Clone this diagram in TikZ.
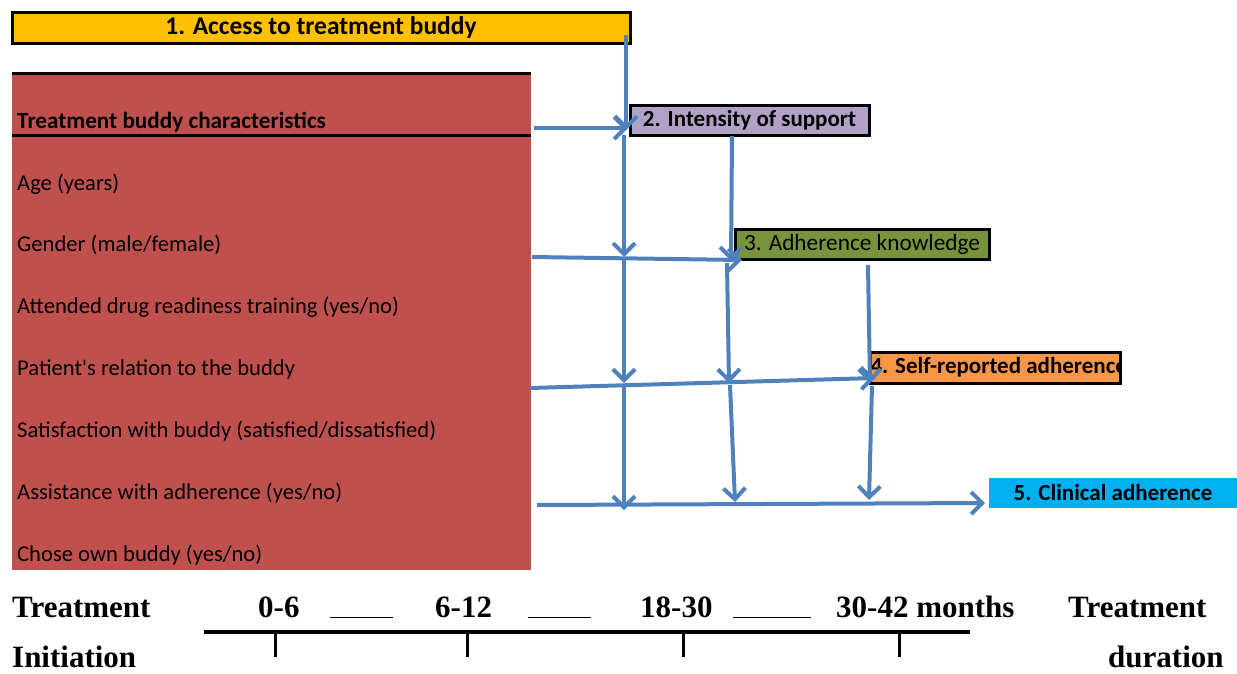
\documentclass[tikz,border=0pt]{standalone}
\usepackage{fontspec}
\setmainfont{Liberation Serif}
\newfontfamily\calib{Carlito}
\usetikzlibrary{arrows.meta}
\definecolor{yel}{HTML}{FFC000}
\definecolor{redp}{HTML}{C0504D}
\definecolor{lav}{HTML}{B2A1C7}
\definecolor{olive}{HTML}{77933C}
\definecolor{orng}{HTML}{F79646}
\definecolor{cyanb}{HTML}{00B0F0}
\definecolor{arrblue}{HTML}{4F81BD}
\tikzset{
  box/.style={draw=black, line width=3pt, inner sep=0pt, font=\calib\fontsize{23}{26}\selectfont\bfseries},
  item/.style={anchor=west, inner sep=0pt, font=\calib\fontsize{22.6}{26}\selectfont},
  flow/.style={draw=arrblue, line width=4pt, -{Straight Barb[length=11pt,width=22pt,line width=4pt]}},
  tl/.style={anchor=base west, inner sep=0pt, text depth=0pt, font=\fontsize{31}{34}\selectfont\bfseries},
}
\begin{document}
\begin{tikzpicture}[x=1pt,y=-1pt]
\useasboundingbox (0,0) rectangle (1237,673);
% red panel
\fill[redp] (12,74) rectangle (531,570);
\draw[line width=3pt] (12,73) -- (531,73);
\draw[line width=3pt] (12,135) -- (531,135);
\node[item,font=\calib\fontsize{23.2}{26}\selectfont\bfseries] (head) at (17,122) {Treatment buddy characteristics};
\node[item] (age) at (17,184) {Age (years)};
\node[item] (gen) at (17,245) {Gender (male/female)};
\node[item] (att) at (17,307) {Attended drug readiness training (yes/no)};
\node[item] (rel) at (17,369) {Patient's relation to the buddy};
\node[item] (sat) at (17,431) {Satisfaction with buddy (satisfied/dissatisfied)};
\node[item] (ass) at (17,493) {Assistance with adherence (yes/no)};
\node[item] (cho) at (17,555) {Chose own buddy (yes/no)};
% boxes
\node[box, fill=yel, minimum width=618pt, minimum height=31pt, font=\calib\fontsize{25.5}{28}\selectfont\bfseries] (b1) at (321,27.5) {1. Access to treatment buddy};
\node[box, fill=lav, minimum width=239pt, minimum height=30pt] (b2) at (749.5,120) {2. Intensity of support};
\node[box, fill=olive, minimum width=254pt, minimum height=30pt, font=\calib\fontsize{23.3}{26}\selectfont] (b3) at (862,244) {3. Adherence knowledge};
\node[box, fill=orng, minimum width=250pt, minimum height=31pt,
  path picture={\node[anchor=west,inner sep=0pt,font=\calib\fontsize{23}{26}\selectfont\bfseries] at ([xshift=-1pt]path picture bounding box.west) {4. Self-reported adherence};}] (b4) at (995,367.5) {};
\node[box, draw=none, fill=cyanb, minimum width=248pt, minimum height=30pt] (b5) at (1113,493) {5. Clinical adherence};
% coordinates
\coordinate (v1s) at (626,35);
\coordinate (v1a) at (626,130);
\coordinate (v1b) at (624,135);
\coordinate (v1c) at (624,257);
\coordinate (v1d) at (624,259);
\coordinate (v1e) at (624,383);
\coordinate (v1f) at (624,385);
\coordinate (v1g) at (624,510);
\coordinate (h1s) at (534,128);
\coordinate (h1e) at (628,128);
\coordinate (v2s) at (732,136);
\coordinate (v2a) at (731,261);
\coordinate (v2b) at (727,263);
\coordinate (v2c) at (729,383);
\coordinate (v2d) at (730,385);
\coordinate (v2e) at (735,502);
\coordinate (h2s) at (532,257);
\coordinate (h2e) at (742,260);
\coordinate (v3s) at (868,265);
\coordinate (v3a) at (870,383);
\coordinate (v3b) at (872,386);
\coordinate (v3c) at (869,500);
\coordinate (h3s) at (530,388);
\coordinate (h3e) at (875,378);
\coordinate (h4s) at (537,505);
\coordinate (h4e) at (985,503);
% arrows
\draw[flow] (v1s) -- (v1a);
\draw[flow] (h1s) -- (h1e);
\draw[flow] (v1b) -- (v1c);
\draw[flow] (v1d) -- (v1e);
\draw[flow] (v1f) -- (v1g);
\draw[flow] (v2s) -- (v2a);
\draw[flow] (h2s) -- (h2e);
\draw[flow] (v2b) -- (v2c);
\draw[flow] (v2d) -- (v2e);
\draw[flow] (v3s) -- (v3a);
\draw[flow] (v3b) -- (v3c);
\draw[flow] (h3s) -- (h3e);
\draw[flow] (h4s) -- (h4e);
% timeline
\node[tl] (t1) at (12,617) {Treatment};
\node[tl] (t2) at (258,617) {0-6};
\node[tl] (t3) at (330,617) {\rule[-1pt]{63pt}{1.5pt}};
\node[tl] (t4) at (435,617) {6-12};
\node[tl] (t5) at (528,617) {\rule[-1pt]{63pt}{1.5pt}};
\node[tl] (t6) at (640,617) {18-30};
\node[tl] (t7) at (733,617) {\rule[-1pt]{78pt}{1.5pt}};
\node[tl] (t8) at (836,617) {30-42 months};
\node[tl] (t9) at (1068,617) {Treatment};
\node[tl] (t10) at (12,667) {Initiation};
\node[tl] (t11) at (1108,667) {duration};
\coordinate (la) at (204,632);
\coordinate (lb) at (970,632);
\draw[line width=4pt] (la) -- (lb);
\foreach \x/\n in {275/k1,467/k2,683/k3,899/k4} {
  \coordinate (\n) at (\x,632);
  \draw[line width=3pt] (\n) -- ++(0,25);
}
\end{tikzpicture}
\end{document}
